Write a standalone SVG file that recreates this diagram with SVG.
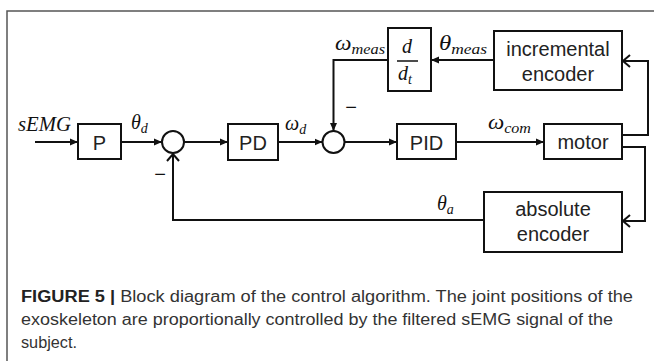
<svg xmlns="http://www.w3.org/2000/svg" width="654" height="361" viewBox="0 0 654 361">
<style>
.box{fill:#fff;stroke:#111;stroke-width:2}
.sum{fill:#fff;stroke:#111;stroke-width:2}
.wire{fill:none;stroke:#111;stroke-width:2}
.lbl{font-family:"Liberation Sans",Arial,sans-serif;font-size:20px;fill:#222;text-anchor:middle}
.math{font-family:"Liberation Serif","Times New Roman",serif;font-style:italic;font-size:20px;fill:#111}
.sub{font-size:14px}
.minus{font-family:"Liberation Sans",Arial,sans-serif;font-size:20px;fill:#111;text-anchor:middle}
.cap{font-family:"Liberation Sans",Arial,sans-serif;font-size:16px;fill:#333}
.frame{fill:none;stroke:#555;stroke-width:1.5}
</style>
<defs>
<marker id="arr" markerUnits="userSpaceOnUse" markerWidth="9" markerHeight="8" refX="8" refY="4" orient="auto">
<path d="M0,0.5 L8,4 L0,7.5 z" fill="#111"/>
</marker>
<marker id="open" markerUnits="userSpaceOnUse" markerWidth="10" markerHeight="14" refX="8" refY="7" orient="auto">
<path d="M1,1 L8,7 L1,13" fill="none" stroke="#111" stroke-width="2"/>
</marker>
</defs>
<g id="frame">
<path class="frame" d="M7,361 L7,11 L654,11"/>
</g>
<g id="connectors">
<line class="wire" x1="35" y1="142" x2="78" y2="142" marker-end="url(#arr)"/>
<line class="wire" x1="121" y1="142" x2="162" y2="142" marker-end="url(#arr)"/>
<line class="wire" x1="184" y1="142" x2="228" y2="142" marker-end="url(#arr)"/>
<line class="wire" x1="278" y1="142" x2="322.5" y2="142" marker-end="url(#arr)"/>
<line class="wire" x1="344.5" y1="142" x2="397" y2="142" marker-end="url(#arr)"/>
<line class="wire" x1="456" y1="142" x2="544" y2="142" marker-end="url(#arr)"/>
<polyline class="wire" points="622,135 648,135 648,61 623,61" marker-end="url(#open)"/>
<polyline class="wire" points="622,147 645,147 645,221 623,221" marker-end="url(#open)"/>
<polyline class="wire" points="484,220 173,220 173,154" marker-end="url(#open)"/>
<line class="wire" x1="494" y1="60" x2="431" y2="60" marker-end="url(#arr)"/>
<polyline class="wire" points="388,60 333.5,60 333.5,131" marker-end="url(#arr)"/>
<text class="math" x="18" y="131" textLength="53" lengthAdjust="spacingAndGlyphs">sEMG</text>
<text class="math" x="131" y="129">θ<tspan class="sub" dy="4">d</tspan></text>
<text class="math" x="285" y="130">ω<tspan class="sub" dy="4">d</tspan></text>
<text class="math" x="488" y="129" textLength="43" lengthAdjust="spacingAndGlyphs">ω<tspan class="sub" dy="4">com</tspan></text>
<text class="math" x="335" y="50" textLength="50" lengthAdjust="spacingAndGlyphs">ω<tspan class="sub" dy="4">meas</tspan></text>
<text class="math" x="439" y="50" textLength="48" lengthAdjust="spacingAndGlyphs">θ<tspan class="sub" dy="4">meas</tspan></text>
<text class="math" x="437" y="210">θ<tspan class="sub" dy="4">a</tspan></text>
<text class="minus" x="160" y="181">−</text>
<text class="minus" x="351" y="114">−</text>
</g>
<g id="node-P">
<rect class="box" x="78" y="124" width="43" height="35"/>
<text class="lbl" x="99.5" y="150">P</text>
</g>
<g id="node-sum1">
<circle class="sum" cx="173" cy="142" r="11"/>
</g>
<g id="node-PD">
<rect class="box" x="228" y="124" width="50" height="36"/>
<text class="lbl" x="253" y="150">PD</text>
</g>
<g id="node-sum2">
<circle class="sum" cx="333.5" cy="142" r="11"/>
</g>
<g id="node-PID">
<rect class="box" x="397" y="124" width="59" height="35"/>
<text class="lbl" x="426.5" y="150">PID</text>
</g>
<g id="node-motor">
<rect class="box" x="544" y="124" width="78" height="35"/>
<text class="lbl" x="583" y="149">motor</text>
</g>
<g id="node-incremental-encoder">
<rect class="box" x="494" y="31" width="128" height="59"/>
<text class="lbl" x="558" y="56">incremental</text>
<text class="lbl" x="558" y="81">encoder</text>
</g>
<g id="node-derivative">
<rect class="box" x="388" y="28" width="43" height="63"/>
<text class="math" x="407" y="53" text-anchor="middle">d</text>
<line x1="397" y1="61" x2="418" y2="61" stroke="#111" stroke-width="1.5"/>
<text class="math" x="398" y="80">d<tspan class="sub" dy="4">t</tspan></text>
</g>
<g id="node-absolute-encoder">
<rect class="box" x="484" y="192" width="138" height="60"/>
<text class="lbl" x="553" y="216">absolute</text>
<text class="lbl" x="553" y="241">encoder</text>
</g>
<g id="caption">
<text class="cap" x="21" y="302" textLength="612" lengthAdjust="spacingAndGlyphs"><tspan font-weight="bold" fill="#222">FIGURE 5 |</tspan> Block diagram of the control algorithm. The joint positions of the</text>
<text class="cap" x="21" y="325" textLength="592" lengthAdjust="spacingAndGlyphs">exoskeleton are proportionally controlled by the filtered sEMG signal of the</text>
<text class="cap" x="21" y="348" textLength="56" lengthAdjust="spacingAndGlyphs">subject.</text>
</g>
</svg>
